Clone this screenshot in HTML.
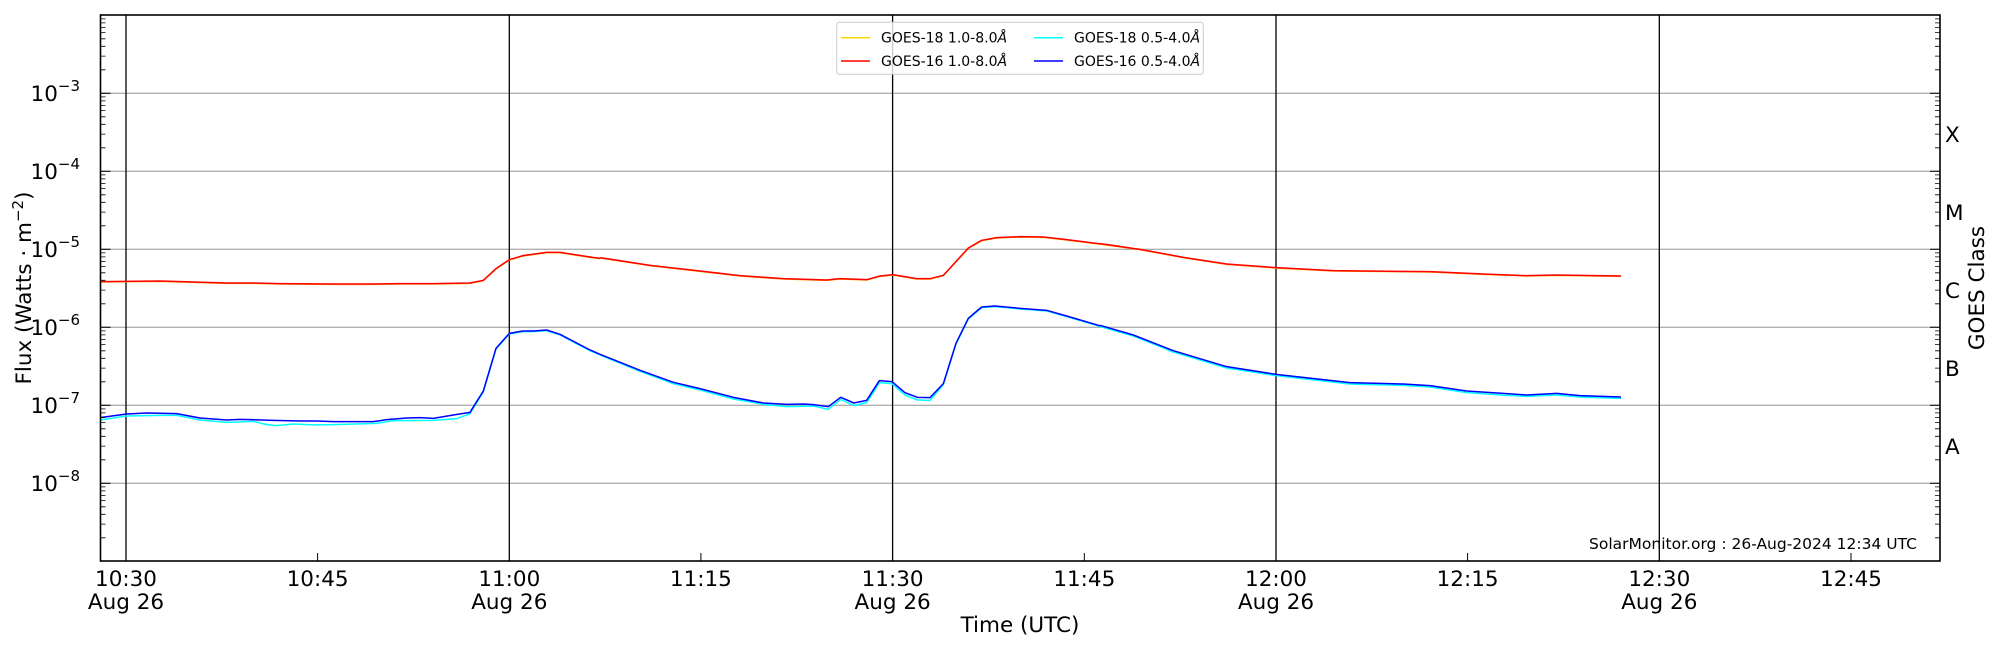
<!DOCTYPE html>
<html><head><meta charset="utf-8"><style>
html,body{margin:0;padding:0;background:#fff;}
svg{display:block;font-family:"DejaVu Sans","Liberation Sans",sans-serif;}
.s{fill:none;stroke-width:4.5;stroke-linejoin:round;}
</style></head><body>
<svg width="2000" height="650" viewBox="0 0 2000 650" xmlns="http://www.w3.org/2000/svg">
<rect width="2000" height="650" fill="#fff"/>
<g stroke="#b0b0b0" stroke-width="1.3">
<line x1="100.5" x2="1940" y1="93.3" y2="93.3"/>
<line x1="100.5" x2="1940" y1="171.3" y2="171.3"/>
<line x1="100.5" x2="1940" y1="249.3" y2="249.3"/>
<line x1="100.5" x2="1940" y1="327.3" y2="327.3"/>
<line x1="100.5" x2="1940" y1="405.3" y2="405.3"/>
<line x1="100.5" x2="1940" y1="483.3" y2="483.3"/>
</g>
<g stroke="#000" stroke-width="1.3">
<line x1="126" x2="126" y1="15" y2="561"/>
<line x1="509.3" x2="509.3" y1="15" y2="561"/>
<line x1="892.6" x2="892.6" y1="15" y2="561"/>
<line x1="1276" x2="1276" y1="15" y2="561"/>
<line x1="1659.3" x2="1659.3" y1="15" y2="561"/>
</g>
<g transform="translate(100,200) scale(0.33333)">
<polyline class="s" stroke="#ffb000" points="0,246 80,245 180,244 280,247 380,250 460,250 540,252 700,253 820,253 900,252 1000,252 1110,250 1150,242 1188,207 1228,180 1268,168 1340,158 1380,158 1470,172 1500,176"/>
<polyline class="s" stroke="#ff0000" points="0,245 80,244 180,243 280,246 380,249 460,249 540,251 700,252 820,252 900,251 1000,251 1110,249 1150,241 1188,206 1228,179 1268,167 1340,157 1380,157 1470,171 1500,175"/>
<polyline class="s" stroke="#00ffff" points="0,660 80,648 180,646 230,646 300,660 380,667 460,664 500,674 530,677 580,672 650,675 700,674 830,670 880,662 1000,661 1070,656 1110,641 1150,576 1188,447 1228,402 1268,395 1300,395 1340,392 1380,405 1470,452 1500,465"/>
<polyline class="s" stroke="#0000ff" points="0,653 80,642 140,639 230,641 300,654 380,660 420,658 520,661 600,663 650,663 700,665 820,665 860,659 920,654 960,653 1000,655 1060,645 1110,637 1150,573 1188,445 1228,400 1268,393 1300,393 1340,390 1380,403 1470,450 1500,463"/>
</g>
<g transform="translate(600,200) scale(0.33333)">
<polyline class="s" stroke="#ffb000" points="0,174 150,197 300,214 420,228 550,237 680,241 720,237 800,240 840,229 878,225 950,237 990,237 1030,227 1105,145 1145,122 1190,114 1260,111 1330,112 1400,120 1560,140"/>
<polyline class="s" stroke="#ff0000" points="0,173 150,196 300,213 420,227 550,236 680,240 720,236 800,239 840,228 878,224 950,236 990,236 1030,226 1105,144 1145,121 1190,113 1260,110 1330,111 1400,119 1560,139"/>
<polyline class="s" stroke="#00ffff" points="0,465 120,514 220,551 300,570 400,597 490,613 560,620 640,618 685,628 722,598 762,617 800,608 838,548 876,551 915,585 952,600 990,601 1030,554 1068,432 1105,357 1145,323 1185,320 1260,327 1340,333 1400,350 1560,397"/>
<polyline class="s" stroke="#0000ff" points="0,463 120,511 220,547 300,566 400,592 490,609 560,613 610,612 640,614 685,620 722,592 762,609 800,601 838,542 876,545 915,578 952,592 990,593 1030,551 1068,430 1105,355 1145,321 1185,318 1260,325 1340,331 1400,348 1560,395"/>
</g>
<g transform="translate(1100,200) scale(0.33333)">
<polyline class="s" stroke="#ffb000" points="0,132 120,149 250,173 380,193 528,204 700,213 990,216 1150,223 1280,228 1370,226 1563,229"/>
<polyline class="s" stroke="#ff0000" points="0,131 120,148 250,172 380,192 528,203 700,212 990,215 1150,222 1280,227 1370,225 1563,228"/>
<polyline class="s" stroke="#00ffff" points="0,379 100,408 220,456 380,504 528,527 750,552 910,556 990,561 1100,578 1220,586 1280,589 1370,585 1440,591 1563,595"/>
<polyline class="s" stroke="#0000ff" points="0,376 100,405 220,452 380,500 528,523 750,548 910,552 990,557 1100,573 1220,581 1280,585 1370,580 1440,587 1563,591"/>
</g>
<rect x="100.5" y="15" width="1839.5" height="546" fill="none" stroke="#000" stroke-width="1.6"/>
<g stroke="#000" stroke-width="1">
<path d="M100.5 93.3h10M1940 93.3h-10M100.5 171.3h10M1940 171.3h-10M100.5 249.3h10M1940 249.3h-10M100.5 327.3h10M1940 327.3h-10M100.5 405.3h10M1940 405.3h-10M100.5 483.3h10M1940 483.3h-10"/>
</g>
<g stroke="#000" stroke-width="0.8">
<path d="M100.5 537.8h5M100.5 524.1h5M100.5 514.3h5M100.5 506.8h5M100.5 500.6h5M100.5 495.4h5M100.5 490.9h5M100.5 486.9h5
M100.5 459.8h5M100.5 446.1h5M100.5 436.3h5M100.5 428.8h5M100.5 422.6h5M100.5 417.4h5M100.5 412.9h5M100.5 408.9h5
M100.5 381.8h5M100.5 368.1h5M100.5 358.3h5M100.5 350.8h5M100.5 344.6h5M100.5 339.4h5M100.5 334.9h5M100.5 330.9h5
M100.5 303.8h5M100.5 290.1h5M100.5 280.3h5M100.5 272.8h5M100.5 266.6h5M100.5 261.4h5M100.5 256.9h5M100.5 252.9h5
M100.5 225.8h5M100.5 212.1h5M100.5 202.3h5M100.5 194.8h5M100.5 188.6h5M100.5 183.4h5M100.5 178.9h5M100.5 174.9h5
M100.5 147.8h5M100.5 134.1h5M100.5 124.3h5M100.5 116.8h5M100.5 110.6h5M100.5 105.4h5M100.5 100.9h5M100.5 96.9h5
M100.5 69.8h5M100.5 56.1h5M100.5 46.3h5M100.5 38.8h5M100.5 32.6h5M100.5 27.4h5M100.5 22.9h5M100.5 18.9h5"/>
<path d="M1940 537.8h-5M1940 524.1h-5M1940 514.3h-5M1940 506.8h-5M1940 500.6h-5M1940 495.4h-5M1940 490.9h-5M1940 486.9h-5
M1940 459.8h-5M1940 446.1h-5M1940 436.3h-5M1940 428.8h-5M1940 422.6h-5M1940 417.4h-5M1940 412.9h-5M1940 408.9h-5
M1940 381.8h-5M1940 368.1h-5M1940 358.3h-5M1940 350.8h-5M1940 344.6h-5M1940 339.4h-5M1940 334.9h-5M1940 330.9h-5
M1940 303.8h-5M1940 290.1h-5M1940 280.3h-5M1940 272.8h-5M1940 266.6h-5M1940 261.4h-5M1940 256.9h-5M1940 252.9h-5
M1940 225.8h-5M1940 212.1h-5M1940 202.3h-5M1940 194.8h-5M1940 188.6h-5M1940 183.4h-5M1940 178.9h-5M1940 174.9h-5
M1940 147.8h-5M1940 134.1h-5M1940 124.3h-5M1940 116.8h-5M1940 110.6h-5M1940 105.4h-5M1940 100.9h-5M1940 96.9h-5
M1940 69.8h-5M1940 56.1h-5M1940 46.3h-5M1940 38.8h-5M1940 32.6h-5M1940 27.4h-5M1940 22.9h-5M1940 18.9h-5"/>
</g>
<g stroke="#000" stroke-width="1">
<path d="M317.6 561v-8M700.9 561v-8M1084.3 561v-8M1467.6 561v-8M1851 561v-8"/>
</g>
<g font-size="21.5" fill="#000" text-anchor="end">
<text x="80" y="101">10<tspan font-size="15" dy="-10">−3</tspan></text>
<text x="80" y="179">10<tspan font-size="15" dy="-10">−4</tspan></text>
<text x="80" y="257">10<tspan font-size="15" dy="-10">−5</tspan></text>
<text x="80" y="335">10<tspan font-size="15" dy="-10">−6</tspan></text>
<text x="80" y="413">10<tspan font-size="15" dy="-10">−7</tspan></text>
<text x="80" y="491">10<tspan font-size="15" dy="-10">−8</tspan></text>
</g>
<text transform="translate(31,288) rotate(-90)" font-size="21.5" text-anchor="middle">Flux (Watts · m<tspan font-size="15" dy="-8">−2</tspan><tspan dy="8">)</tspan></text>
<g font-size="21.5" fill="#000">
<text x="1945" y="142">X</text>
<text x="1945" y="220">M</text>
<text x="1945" y="298">C</text>
<text x="1945" y="376">B</text>
<text x="1945" y="454">A</text>
</g>
<text transform="translate(1984,288) rotate(-90)" font-size="21.5" text-anchor="middle">GOES Class</text>
<g font-size="21.5" fill="#000" text-anchor="middle">
<text x="126" y="586">10:30</text><text x="126" y="609">Aug 26</text>
<text x="317.6" y="586">10:45</text>
<text x="509.3" y="586">11:00</text><text x="509.3" y="609">Aug 26</text>
<text x="700.9" y="586">11:15</text>
<text x="892.6" y="586">11:30</text><text x="892.6" y="609">Aug 26</text>
<text x="1084.3" y="586">11:45</text>
<text x="1276" y="586">12:00</text><text x="1276" y="609">Aug 26</text>
<text x="1467.6" y="586">12:15</text>
<text x="1659.3" y="586">12:30</text><text x="1659.3" y="609">Aug 26</text>
<text x="1851" y="586">12:45</text>
<text x="1020" y="632">Time (UTC)</text>
</g>
<text x="1917" y="549" font-size="15.5" text-anchor="end">SolarMonitor.org : 26-Aug-2024 12:34 UTC</text>
<rect x="836.7" y="22.3" width="366.6" height="52" rx="3" fill="#fff" fill-opacity="0.8" stroke="#ccc" stroke-width="1"/>
<g stroke-width="1.5">
<line x1="841" x2="870" y1="37.7" y2="37.7" stroke="#ffd700"/>
<line x1="841" x2="870" y1="61" y2="61" stroke="#ff0000"/>
<line x1="1034" x2="1063" y1="37.7" y2="37.7" stroke="#00ffff"/>
<line x1="1034" x2="1063" y1="61" y2="61" stroke="#0000ff"/>
</g>
<g font-size="14" fill="#000">
<text x="881" y="42.5">GOES-18 1.0-8.0<tspan font-style="italic">Å</tspan></text>
<text x="881" y="66">GOES-16 1.0-8.0<tspan font-style="italic">Å</tspan></text>
<text x="1074" y="42.5">GOES-18 0.5-4.0<tspan font-style="italic">Å</tspan></text>
<text x="1074" y="66">GOES-16 0.5-4.0<tspan font-style="italic">Å</tspan></text>
</g>
</svg>
</body></html>
